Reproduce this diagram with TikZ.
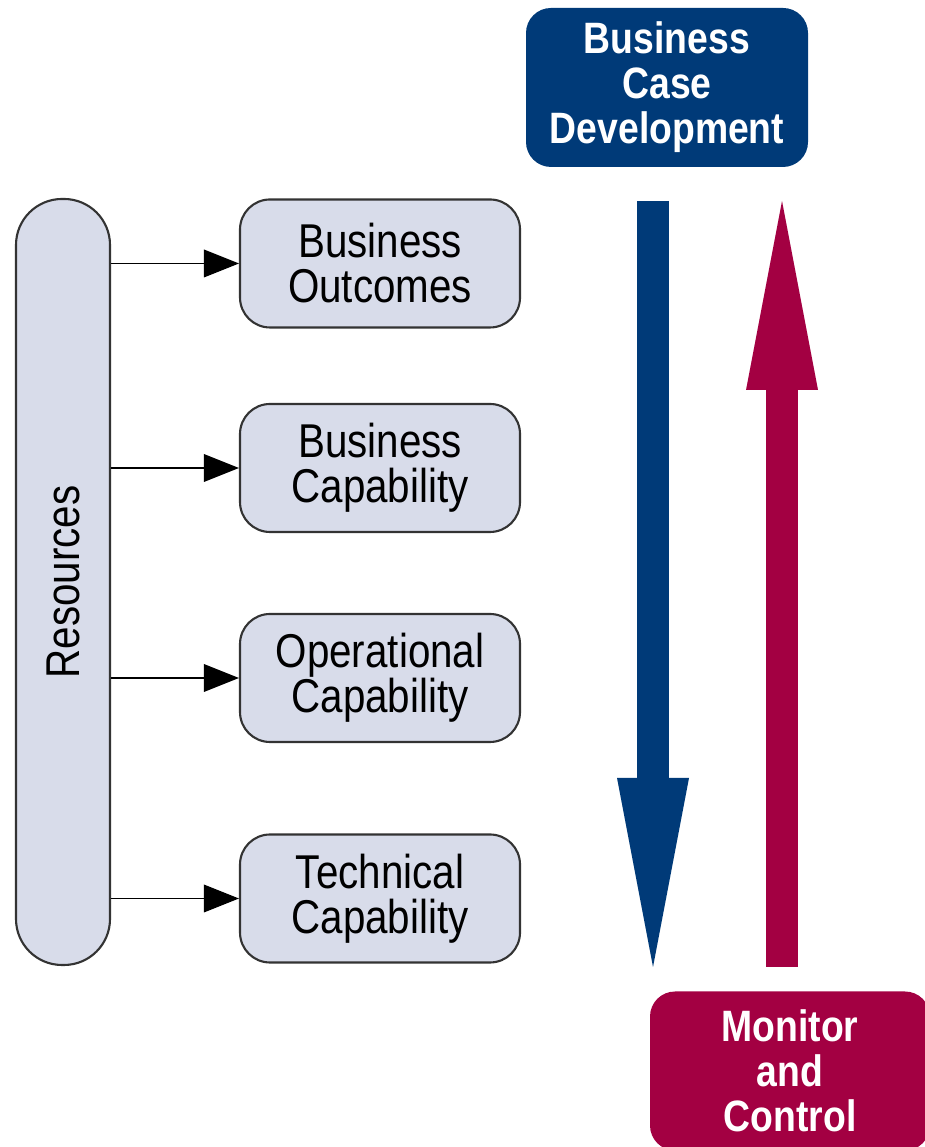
\documentclass[tikz,border=0pt]{standalone}
\usepackage{fontspec}
\setmainfont{Liberation Sans}[FakeStretch=0.85]
\usepackage{xcolor}
\usepackage{tikz}
\usetikzlibrary{arrows.meta}

\definecolor{casecol}{RGB}{0,58,120}
\definecolor{ctrlcol}{RGB}{163,0,66}
\definecolor{boxfill}{RGB}{216,220,234}

\begin{document}
\begin{tikzpicture}[
            stage/.style={shape=rectangle, rounded corners=0.3cm, draw=black!80, line width=0.6pt, fill=boxfill,
                minimum width=2.8cm, minimum height=1.28cm, align=center, font=\fontsize{13.5}{12.8}\selectfont},
            phase/.style={shape=rectangle, rounded corners=0.25cm, minimum width=2.82cm, minimum height=1.59cm,
                align=center, text=white, font=\fontsize{12.5}{12.8}\selectfont\bfseries},
            feed/.style={line width=0.5pt, -{Triangle[length=0.35cm,width=0.28cm,line width=0pt]}},
            big/.style={line width=0.32cm, -{Triangle[length=1.89cm,width=0.72cm,line width=0pt]}}]
        \clip (0,0) rectangle (9.25,11.47);

        % resources bar
        \node[draw=black!80, line width=0.6pt, fill=boxfill, rounded corners=0.46cm,
            minimum width=0.94cm, minimum height=7.66cm] (res) at (0.63,5.65) {};
        \node[rotate=90, font=\fontsize{13.5}{12.8}\selectfont] (reslabel) at (res.center) {Resources};

        \node[stage] (outc) at (3.80,8.835) {Business\\Outcomes};
        \node[stage] (bcap) at (3.80,6.79) {Business\\Capability};
        \node[stage] (ocap) at (3.80,4.69) {Operational\\Capability};
        \node[stage] (tcap) at (3.80,2.485) {Technical\\Capability};

        \foreach \b in {outc,bcap,ocap,tcap}
            \draw[feed] (res.east |- \b.west) -- (\b.west);

        % business case / monitor
        \node[phase, fill=casecol] (case) at (6.67,10.595) {Business\\Case\\Development};
        \node[phase, fill=ctrlcol, minimum width=2.8cm] (ctrl) at (7.90,0.76) {Monitor\\and\\Control};

        \coordinate (downtop) at (6.53,9.46);
        \coordinate (downend) at (6.53,1.80);
        \coordinate (upstart) at (7.82,1.80);
        \coordinate (upend) at (7.82,9.46);
        \draw[big, color=casecol] (downtop) -- (downend);
        \draw[big, color=ctrlcol] (upstart) -- (upend);
    \end{tikzpicture}
\end{document}
